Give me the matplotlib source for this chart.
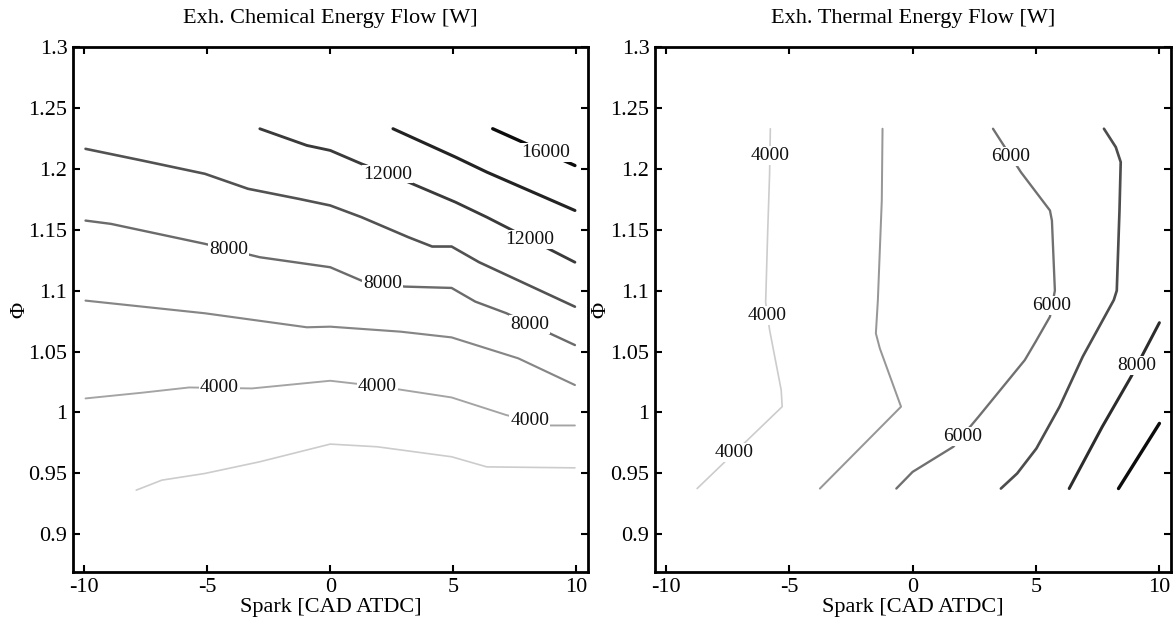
import matplotlib
matplotlib.use("Agg")
import matplotlib.pyplot as plt
import numpy as np

# ---- Exhaust chemical energy flow [W]: iso-lines (spark [CAD ATDC], phi) ----
chem_levels = [2000, 4000, 6000, 8000, 10000, 12000, 14000, 16000]

chem_2000_spark = [-7.88, -6.84, -5.09, -2.86, 0.0, 1.91, 4.93, 6.36, 9.94]
chem_2000_phi = [0.9362, 0.9444, 0.9499, 0.9595, 0.9740, 0.9718, 0.9636, 0.9553, 0.9545]

chem_4000_spark = [-9.94, -7.64, -5.73, -3.18, 0.0, 1.91, 4.93, 7.16, 8.91, 9.94]
chem_4000_phi = [1.0115, 1.0162, 1.0205, 1.0197, 1.0260, 1.0216, 1.0123, 0.9978, 0.9893, 0.9893]

chem_6000_spark = [-9.94, -5.09, -0.95, 0.0, 2.86, 4.93, 7.64, 9.94]
chem_6000_phi = [1.0918, 1.0814, 1.0699, 1.0704, 1.0663, 1.0616, 1.0444, 1.0225]

chem_8000_spark = [-9.94, -8.91, -5.09, -2.86, 0.0, 1.27, 3.02, 4.93, 5.89, 7.16, 9.94]
chem_8000_phi = [1.1575, 1.1548, 1.1384, 1.1274, 1.1192, 1.1082, 1.1033, 1.1022, 1.0910, 1.0814, 1.0553]

chem_10000_spark = [-9.94, -7.64, -5.09, -3.34, -1.27, 0.0, 1.27, 3.18, 4.14, 4.93, 6.05, 9.94]
chem_10000_phi = [1.2164, 1.2068, 1.1959, 1.1836, 1.1753, 1.1699, 1.1603, 1.1438, 1.1362, 1.1362, 1.1233, 1.0868]

chem_12000_spark = [-2.86, -0.95, 0.0, 1.27, 3.02, 5.09, 6.36, 9.94]
chem_12000_phi = [1.2329, 1.2192, 1.2151, 1.2041, 1.1904, 1.1726, 1.1603, 1.1233]

chem_14000_spark = [2.55, 5.09, 6.36, 9.94]
chem_14000_phi = [1.2329, 1.2096, 1.1973, 1.1658]

chem_16000_spark = [6.60, 9.94]
chem_16000_phi = [1.2329, 1.2027]

chem_spark = [chem_2000_spark, chem_4000_spark, chem_6000_spark, chem_8000_spark,
              chem_10000_spark, chem_12000_spark, chem_14000_spark, chem_16000_spark]
chem_phi = [chem_2000_phi, chem_4000_phi, chem_6000_phi, chem_8000_phi,
            chem_10000_phi, chem_12000_phi, chem_14000_phi, chem_16000_phi]

# inline labels: level and the spark value where the label sits on that line
chem_label_levels = [4000, 4000, 4000, 8000, 8000, 8000, 12000, 12000, 16000]
chem_label_spark = [-4.5, 1.91, 8.11, -4.14, 2.12, 8.11, 2.34, 8.11, 8.75]

# ---- Exhaust thermal energy flow [W]: iso-lines ----
therm_levels = [4000, 5000, 6000, 7000, 8000, 9000]

therm_4000_spark = [-5.77, -5.80, -5.88, -5.96, -5.80, -5.33, -5.29, -8.74]
therm_4000_phi = [1.2329, 1.1960, 1.1466, 1.0904, 1.0677, 1.0184, 1.0047, 0.9375]

therm_5000_spark = [-1.22, -1.25, -1.41, -1.49, -1.33, -0.47, -3.76]
therm_5000_phi = [1.2329, 1.1740, 1.0918, 1.0649, 1.0526, 1.0047, 0.9375]

therm_6000_spark = [3.26, 4.39, 5.57, 5.65, 5.77, 5.57, 4.99, 4.55, 2.67, 1.65, 0.0, -0.66]
therm_6000_phi = [1.2329, 1.1973, 1.1658, 1.1575, 1.1000, 1.0786, 1.0581, 1.0430, 0.9964, 0.9718, 0.9512, 0.9375]

therm_7000_spark = [7.76, 8.24, 8.44, 8.39, 8.28, 8.16, 6.90, 5.96, 5.02, 4.24, 3.58]
therm_7000_phi = [1.2329, 1.2178, 1.2055, 1.1658, 1.1000, 1.0923, 1.0458, 1.0047, 0.9704, 0.9499, 0.9375]

therm_8000_spark = [10.01, 8.86, 7.69, 6.35]
therm_8000_phi = [1.0737, 1.0293, 0.9882, 0.9375]

therm_9000_spark = [10.01, 8.35]
therm_9000_phi = [0.9910, 0.9375]

therm_spark = [therm_4000_spark, therm_5000_spark, therm_6000_spark,
               therm_7000_spark, therm_8000_spark, therm_9000_spark]
therm_phi = [therm_4000_phi, therm_5000_phi, therm_6000_phi,
             therm_7000_phi, therm_8000_phi, therm_9000_phi]

# inline labels: level and the phi value where the label sits on that line
therm_label_levels = [4000, 4000, 4000, 6000, 6000, 6000, 8000]
therm_label_phi = [1.211, 1.0795, 0.9668, 1.2104, 1.0877, 0.9805, 1.0389]

x_ticks = [-10, -5, 0, 5, 10]
y_ticks = [0.9, 0.95, 1.0, 1.05, 1.1, 1.15, 1.2, 1.25, 1.3]
y_ticklabels = ["0.9", "0.95", "1", "1.05", "1.1", "1.15", "1.2", "1.25", "1.3"]

plt.rcParams["font.family"] = ["Liberation Serif", "DejaVu Serif"]

fig = plt.figure(figsize=(11.75, 6.25), dpi=100)
ax_l = fig.add_axes([0.0621, 0.0848, 0.4383, 0.84])
ax_r = fig.add_axes([0.5574, 0.0848, 0.4390, 0.84])

cmap = plt.get_cmap("gray_r")


def shade(level, levels):
    t = (level - levels[0]) / (levels[-1] - levels[0])
    return cmap(0.2 + 0.75 * t ** 0.8), 1.2 + 1.2 * t


def label_point(xs, ys, value, by_x):
    xs = np.asarray(xs, float)
    ys = np.asarray(ys, float)
    if by_x:
        order = np.argsort(xs)
        return value, float(np.interp(value, xs[order], ys[order]))
    order = np.argsort(ys)
    return float(np.interp(value, ys[order], xs[order])), value


def draw_panel(ax, levels, sparks, phis, lab_levels, lab_vals, by_x, title, ylpad):
    for lev, xs, ys in zip(levels, sparks, phis):
        color, lw = shade(lev, levels)
        ax.plot(xs, ys, color=color, lw=lw, solid_joinstyle="round",
                solid_capstyle="round", zorder=2)
    for lev, val in zip(lab_levels, lab_vals):
        i = levels.index(lev)
        x, y = label_point(sparks[i], phis[i], val, by_x)
        ax.text(x, y, f"{lev}", ha="center", va="center", fontsize=14,
                color="#111111", zorder=3,
                bbox=dict(boxstyle="square,pad=0.05", fc="white", ec="none"))
    ax.set_xlim(-10.45, 10.47)
    ax.set_ylim(0.869, 1.3)
    ax.set_xticks(x_ticks)
    ax.set_xticklabels([str(t) for t in x_ticks])
    ax.set_yticks(y_ticks)
    ax.set_yticklabels(y_ticklabels)
    ax.tick_params(direction="in", top=True, right=True, length=5, width=1.5,
                   labelsize=16, pad=4, colors="black")
    for sp in ax.spines.values():
        sp.set_linewidth(2.0)
        sp.set_color("black")
    ax.set_xlabel("Spark [CAD ATDC]", fontsize=16, labelpad=1)
    ax.set_ylabel("Φ", fontsize=16, labelpad=ylpad)
    ax.set_title(title, fontsize=16, pad=17)


draw_panel(ax_l, chem_levels, chem_spark, chem_phi,
           chem_label_levels, chem_label_spark, True,
           "Exh. Chemical Energy Flow [W]", -1)
draw_panel(ax_r, therm_levels, therm_spark, therm_phi,
           therm_label_levels, therm_label_phi, False,
           "Exh. Thermal Energy Flow [W]", 0)

fig.savefig("out.png", dpi=100, facecolor="white")
